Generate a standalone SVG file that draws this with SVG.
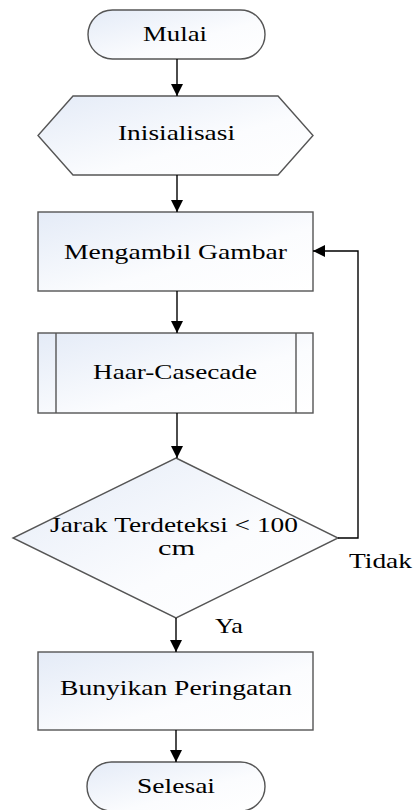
<svg xmlns="http://www.w3.org/2000/svg" width="414" height="810" viewBox="0 0 414 810">
<defs>
<linearGradient id="g" x1="0" y1="0" x2="1" y2="1">
<stop offset="0" stop-color="#e4ebf7"/>
<stop offset="0.6" stop-color="#fbfcfe"/>
<stop offset="1" stop-color="#ffffff"/>
</linearGradient>
<marker id="ah" markerUnits="userSpaceOnUse" markerWidth="12" markerHeight="12" viewBox="0 0 12 12" refX="12" refY="6" orient="auto">
<path d="M0,0 L12,6 L0,12 Z" fill="#000"/>
</marker>
</defs>
<style>
.s{fill:url(#g);stroke:#555;stroke-width:1.4}
.t{font-family:'Liberation Serif','DejaVu Serif',serif;font-size:21px;fill:#000}
.c{fill:none;stroke:#000;stroke-width:1.4;marker-end:url(#ah)}
</style>
<rect width="414" height="810" fill="#fff"/>
<g id="mulai">
<rect class="s" x="88" y="10" width="177" height="49" rx="24.5"/>
<text class="t" font-family="Liberation Serif, DejaVu Serif, serif" x="143" y="41" textLength="64" lengthAdjust="spacingAndGlyphs">Mulai</text>
</g>
<g id="inisialisasi">
<polygon class="s" points="73,96 278,96 313,135.5 278,175 73,175 38,135.5"/>
<text class="t" font-family="Liberation Serif, DejaVu Serif, serif" x="118" y="140" textLength="117" lengthAdjust="spacingAndGlyphs">Inisialisasi</text>
</g>
<g id="mengambil">
<rect class="s" x="38" y="212" width="275" height="79"/>
<text class="t" font-family="Liberation Serif, DejaVu Serif, serif" x="64" y="259" textLength="223" lengthAdjust="spacingAndGlyphs">Mengambil Gambar</text>
</g>
<g id="haar">
<rect class="s" x="38" y="333" width="275" height="80"/>
<line x1="56" y1="333" x2="56" y2="413" stroke="#555" stroke-width="1.4"/>
<line x1="296" y1="333" x2="296" y2="413" stroke="#555" stroke-width="1.4"/>
<text class="t" font-family="Liberation Serif, DejaVu Serif, serif" x="93" y="379" textLength="164" lengthAdjust="spacingAndGlyphs">Haar-Casecade</text>
</g>
<g id="jarak">
<polygon class="s" points="176,458 338,538 176,618 13,538"/>
<text class="t" font-family="Liberation Serif, DejaVu Serif, serif" x="50" y="532" textLength="248" lengthAdjust="spacingAndGlyphs">Jarak Terdeteksi &lt; 100</text>
<text class="t" font-family="Liberation Serif, DejaVu Serif, serif" x="158" y="555" textLength="37" lengthAdjust="spacingAndGlyphs">cm</text>
</g>
<g id="bunyikan">
<rect class="s" x="38" y="652" width="275" height="78"/>
<text class="t" font-family="Liberation Serif, DejaVu Serif, serif" x="60" y="695" textLength="232" lengthAdjust="spacingAndGlyphs">Bunyikan Peringatan</text>
</g>
<g id="selesai">
<rect class="s" x="87" y="762" width="178" height="49" rx="24.5"/>
<text class="t" font-family="Liberation Serif, DejaVu Serif, serif" x="137" y="793" textLength="78" lengthAdjust="spacingAndGlyphs">Selesai</text>
</g>
<g id="connectors">
<line class="c" x1="177" y1="59" x2="177" y2="96"/>
<line class="c" x1="177" y1="175" x2="177" y2="212"/>
<line class="c" x1="177" y1="291" x2="177" y2="333"/>
<line class="c" x1="177" y1="413" x2="177" y2="458"/>
<line class="c" x1="176" y1="618" x2="176" y2="652"/>
<line class="c" x1="176" y1="730" x2="176" y2="762"/>
<polyline class="c" points="338,538 358,538 358,251 313,251"/>
<text class="t" font-family="Liberation Serif, DejaVu Serif, serif" x="349" y="568" textLength="63" lengthAdjust="spacingAndGlyphs">Tidak</text>
<text class="t" font-family="Liberation Serif, DejaVu Serif, serif" x="215" y="633" textLength="28" lengthAdjust="spacingAndGlyphs">Ya</text>
</g>
</svg>
